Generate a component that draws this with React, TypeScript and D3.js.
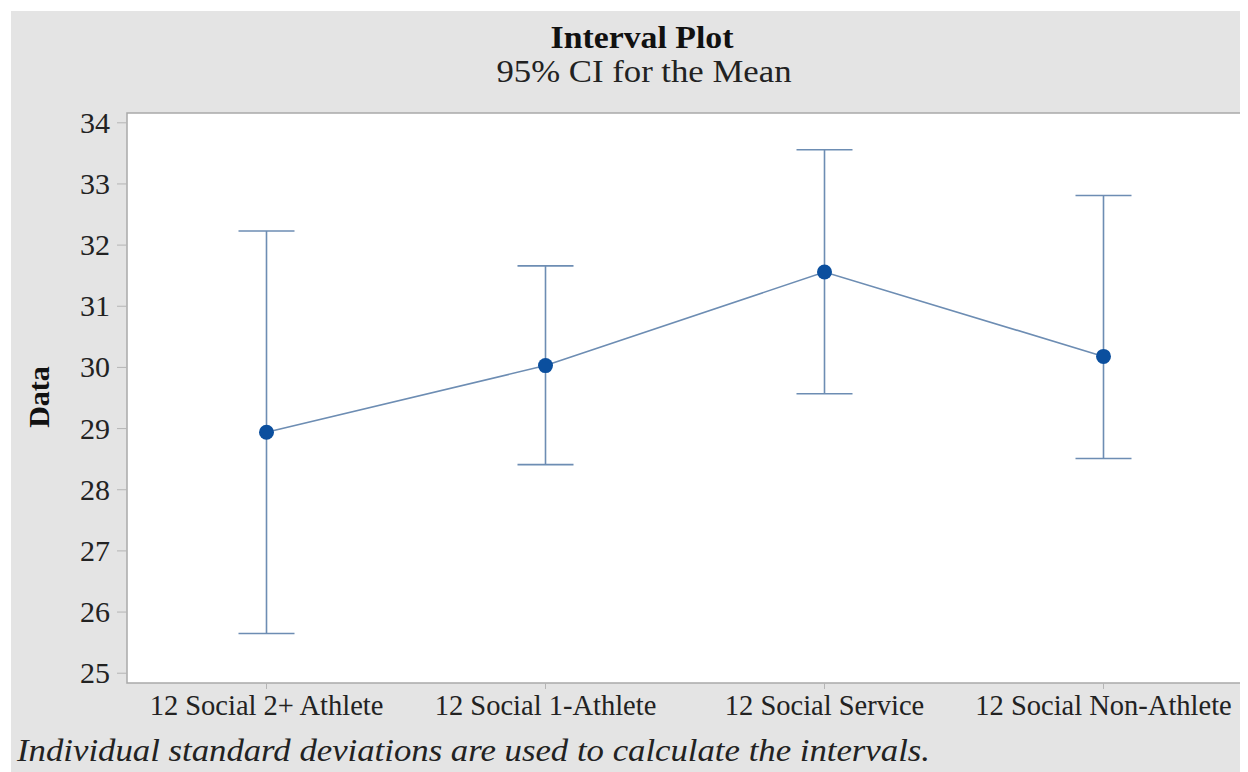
import React from "react";
import * as d3 from "d3";

// Interval plot data: group means with 95% confidence limits
const categories = [
  "12 Social 2+ Athlete",
  "12 Social 1-Athlete",
  "12 Social Service",
  "12 Social Non-Athlete",
];
const means = [28.94, 30.03, 31.56, 30.18];
const lowerCI = [25.65, 28.41, 29.57, 28.51];
const upperCI = [32.23, 31.66, 33.56, 32.81];
const yTicks = [25, 26, 27, 28, 29, 30, 31, 32, 33, 34];

const W = 1248;
const H = 772;
const plot = { left: 127, right: 1243, top: 113, bottom: 683 };

const BAR = "#6d8db3";
const DOT = "#0b4f9e";
const SERIF = "Liberation Serif, Tinos, Times New Roman, Times, serif";

export default function App() {
  const x = d3
    .scalePoint<string>()
    .domain(categories)
    .range([plot.left, plot.right])
    .padding(0.5);
  const y = d3
    .scaleLinear()
    .domain([24.84, 34.16])
    .range([plot.bottom, plot.top]);

  const capHalf = 28;
  const line = d3
    .line<number>()
    .x((_, i) => x(categories[i]) as number)
    .y((d) => y(d));

  return (
    <svg width={W - 8} height={H - 8} style={{ display: "block" }}>
      <g transform="translate(-8,-8)" fontFamily={SERIF}>
        <rect x={11} y={11} width={W - 11} height={H - 11} fill="#e4e4e4" />
        <text
          x={642}
          y={48}
          textAnchor="middle"
          fontFamily={SERIF}
          fontSize={31}
          fontWeight="bold"
          fill="#111"
          textLength={183}
          lengthAdjust="spacingAndGlyphs"
        >
          Interval Plot
        </text>
        <text
          x={644}
          y={82}
          textAnchor="middle"
          fontFamily={SERIF}
          fontSize={32}
          fill="#222"
          textLength={295}
          lengthAdjust="spacingAndGlyphs"
        >
          95% CI for the Mean
        </text>

        <rect
          x={plot.left}
          y={plot.top}
          width={plot.right - plot.left}
          height={plot.bottom - plot.top}
          fill="#ffffff"
          stroke="#a9a9a9"
          strokeWidth={1.5}
        />

        {yTicks.map((t) => (
          <g key={t}>
            <line
              x1={plot.left - 10}
              x2={plot.left}
              y1={y(t)}
              y2={y(t)}
              stroke="#b5b5b5"
              strokeWidth={1}
            />
            <text
              x={110}
              y={y(t) + 10}
              textAnchor="end"
              fontFamily={SERIF}
              fontSize={30}
              fill="#222"
            >
              {t}
            </text>
          </g>
        ))}

        {categories.map((c) => (
          <g key={c}>
            <line
              x1={x(c)}
              x2={x(c)}
              y1={plot.bottom}
              y2={plot.bottom + 6}
              stroke="#b5b5b5"
              strokeWidth={1}
            />
            <text
              x={x(c)}
              y={715}
              textAnchor="middle"
              fontFamily={SERIF}
              fontSize={28.5}
              fill="#222"
            >
              {c}
            </text>
          </g>
        ))}

        <text
          transform="translate(49,397) rotate(-90)"
          textAnchor="middle"
          fontFamily={SERIF}
          fontSize={30}
          fontWeight="bold"
          fill="#111"
        >
          Data
        </text>

        {categories.map((c, i) => {
          const cx = x(c) as number;
          return (
            <g key={c} stroke={BAR} strokeWidth={1.6} fill="none">
              <line x1={cx} x2={cx} y1={y(upperCI[i])} y2={y(lowerCI[i])} />
              <line
                x1={cx - capHalf}
                x2={cx + capHalf}
                y1={y(upperCI[i])}
                y2={y(upperCI[i])}
              />
              <line
                x1={cx - capHalf}
                x2={cx + capHalf}
                y1={y(lowerCI[i])}
                y2={y(lowerCI[i])}
              />
            </g>
          );
        })}

        <path
          d={line(means) ?? ""}
          fill="none"
          stroke={BAR}
          strokeWidth={1.6}
        />
        {categories.map((c, i) => (
          <circle
            key={c}
            cx={x(c)}
            cy={y(means[i])}
            r={7.5}
            fill={DOT}
          />
        ))}

        <text
          x={17}
          y={761}
          fontFamily={SERIF}
          fontSize={32}
          fontStyle="italic"
          fill="#222"
          textLength={913}
          lengthAdjust="spacingAndGlyphs"
        >
          Individual standard deviations are used to calculate the intervals.
        </text>
      </g>
    </svg>
  );
}
